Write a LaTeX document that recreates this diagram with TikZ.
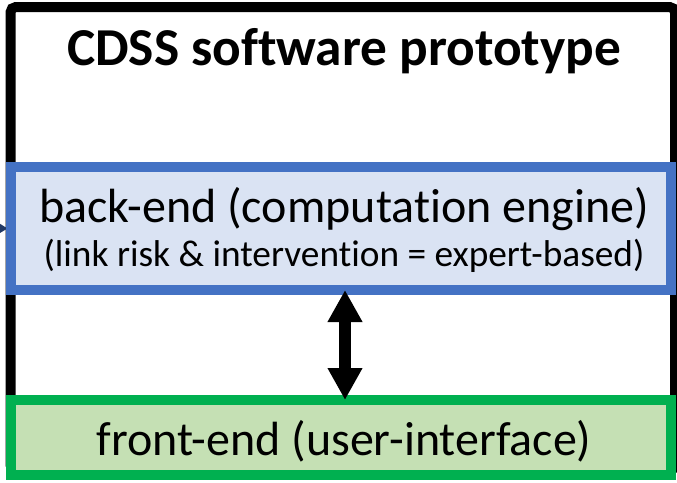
\documentclass[tikz,border=0pt]{standalone}
\usepackage{fontspec}
\setmainfont{Carlito}[Ligatures=NoCommon]
\usetikzlibrary{arrows.meta}
\definecolor{backline}{HTML}{4472C4}
\definecolor{backfill}{HTML}{DAE3F3}
\definecolor{frontline}{HTML}{00B050}
\definecolor{frontfill}{HTML}{C5E0B4}
\definecolor{feedcol}{HTML}{203864}
\tikzset{
  frame/.style={line width=7.5pt,rounded corners=4pt},
  layerbox/.style={draw,line width=7.5pt,outer sep=0pt,minimum width=495pt,inner sep=0pt},
  bigtext/.style={font=\fontsize{36}{42}\selectfont,anchor=base},
  smalltext/.style={font=\fontsize{28}{32}\selectfont,anchor=base},
}
\begin{document}
\begin{tikzpicture}[x=0.75pt,y=-0.75pt]
  \useasboundingbox (0,0) rectangle (677,482);
  \fill[white] (0,0) rectangle (677,482);
  % prototype frame
  \draw[frame] (10.5,7) rectangle (675,470);
  \node[font=\fontsize{40}{46}\bfseries\selectfont,anchor=base] (title) at (344,65) {CDSS software prototype};
  % incoming link from the left
  \coordinate (feed) at (-40,228);
  \node[layerbox,draw=none,minimum height=92.25pt] (back) at (341,228.5) {};
  \draw[feedcol,line width=2pt,shorten >=2.5pt,-{Triangle[width=9pt,length=8pt]}] (feed) -- (back.west);
  % back-end
  \node[layerbox,draw=backline,fill=backfill,minimum height=92.25pt] (back) at (341,228.5) {};
  \node[bigtext] (backname) at (344,222) {back-end (computation engine)};
  \node[smalltext] (backnote) at (344,266) {(link risk \& intervention = expert-based)};
  % front-end
  \node[layerbox,draw=frontline,fill=frontfill,minimum height=56.25pt] (front) at (341,437.5) {};
  \node[bigtext] (frontname) at (344,455) {front-end (user-interface)};
  \draw[line width=9pt,{Triangle[width=24.5pt,length=24pt]}-{Triangle[width=24.5pt,length=24pt]}] (back.south -| 345,0) -- (front.north -| 345,0);
\end{tikzpicture}
\end{document}
